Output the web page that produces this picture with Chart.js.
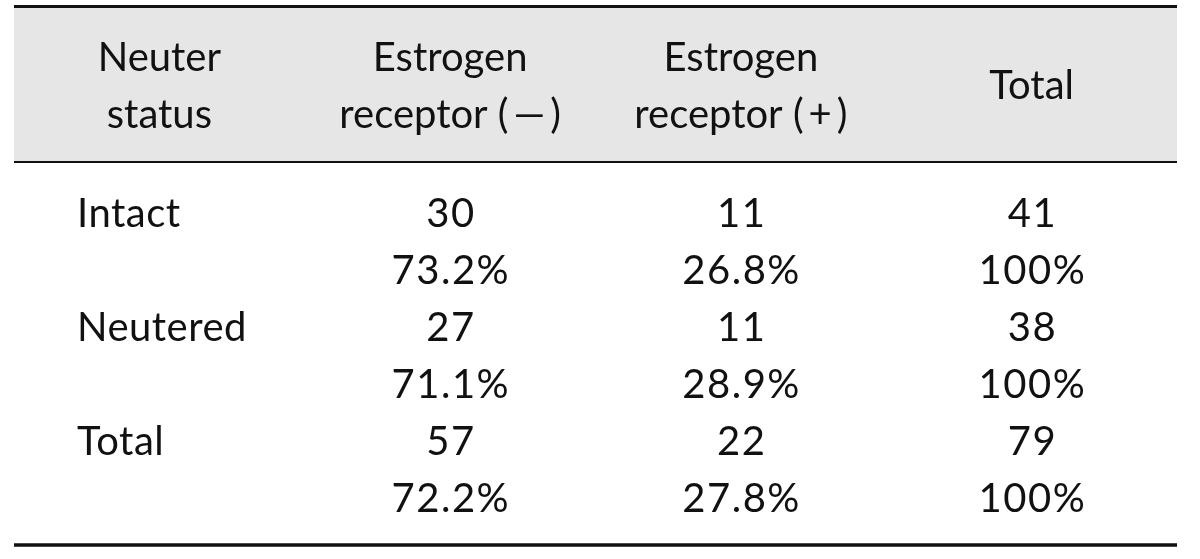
<!DOCTYPE html>
<html lang="en">
<head>
  <meta charset="UTF-8">
  <title>Neuter status vs estrogen receptor</title>
  <script src="https://cdn.jsdelivr.net/npm/chart.js"></script>
  <style>
    html, body { margin: 0; padding: 0; background: #fff; }
    canvas { display: block; }
  </style>
</head>
<body>
  <canvas id="tableChart" width="1200" height="559"></canvas>

  <script>
    // table content
    const headers = [['Neuter', 'status'], ['Estrogen', 'receptor (\u2009\u2014\u2009)'], ['Estrogen', 'receptor (\u2009+\u2009)'], ['Total']];
    const rowLabels = ['Intact', 'Neutered', 'Total'];
    const erNegative = [30, 27, 57];
    const erPositive = [11, 11, 22];
    const rowTotals = [41, 38, 79];
    const erNegativePct = [73.2, 71.1, 72.2];
    const erPositivePct = [26.8, 28.9, 27.8];
    const rowTotalPct = [100, 100, 100];

    // y is measured in text lines; body line 0 is the first count row
    const headerMid = -2.237;
    const rules = { top: -3.868, header: -1.14, bottom: 5.579 };
    const labelInset = 63;
    const font = '40px Lato, "Open Sans", sans-serif';

    function pct(v) {
      return (v % 1 === 0 ? v.toFixed(0) : v.toFixed(1)) + '%';
    }

    const cells = [];
    headers.forEach((lines, c) => {
      lines.forEach((t, k) => {
        cells.push({ x: c, y: headerMid - (lines.length - 1) / 2 + k, text: t, align: 'center', spacing: 0 });
      });
    });
    const valueCols = [[erNegative, erNegativePct], [erPositive, erPositivePct], [rowTotals, rowTotalPct]];
    rowLabels.forEach((label, i) => {
      cells.push({ x: -0.5, y: 2 * i, text: label, align: 'left', spacing: 0.5 });
      valueCols.forEach(([counts, pcts], j) => {
        cells.push({ x: j + 1, y: 2 * i, text: String(counts[i]), align: 'center', spacing: 1.5 });
        cells.push({ x: j + 1, y: 2 * i + 1, text: pct(pcts[i]), align: 'center', spacing: 1.5 });
      });
    });

    const tablePlugin = {
      id: 'tablePlugin',
      beforeDatasetsDraw(chart) {
        const { ctx, chartArea, scales } = chart;
        const yTop = scales.y.getPixelForValue(rules.top);
        const yHead = scales.y.getPixelForValue(rules.header);
        const yBottom = scales.y.getPixelForValue(rules.bottom);
        ctx.save();
        ctx.fillStyle = '#e6e6e6';
        ctx.fillRect(chartArea.left, yTop, chartArea.right - chartArea.left, yHead - yTop);
        ctx.strokeStyle = '#111';
        [[yTop, 3], [yHead, 2], [yBottom, 3.5]].forEach(([y, w]) => {
          ctx.lineWidth = w;
          ctx.beginPath();
          ctx.moveTo(chartArea.left, y);
          ctx.lineTo(chartArea.right, y);
          ctx.stroke();
        });
        ctx.restore();
      },
      afterDatasetsDraw(chart) {
        const { ctx, chartArea } = chart;
        const meta = chart.getDatasetMeta(0);
        const data = chart.data.datasets[0].data;
        ctx.save();
        ctx.font = font;
        ctx.fillStyle = '#111';
        ctx.textBaseline = 'alphabetic';
        meta.data.forEach((el, i) => {
          const cell = data[i];
          ctx.letterSpacing = cell.spacing + 'px';
          ctx.textAlign = cell.align;
          let x = cell.align === 'left' ? chartArea.left + labelInset : el.x + cell.spacing / 2;
          ctx.fillText(cell.text, x, el.y);
        });
        ctx.restore();
      }
    };

    new Chart(document.getElementById('tableChart'), {
      type: 'scatter',
      data: { datasets: [{ data: cells, pointRadius: 0, pointHoverRadius: 0 }] },
      options: {
        responsive: false,
        animation: false,
        layout: { padding: { left: 14, right: 23, top: 0, bottom: 0 } },
        plugins: { legend: { display: false }, tooltip: { enabled: false } },
        scales: {
          x: { type: 'linear', min: -0.5, max: 3.5, display: false },
          y: { type: 'linear', min: -3.982, max: 5.825, reverse: true, display: false }
        }
      },
      plugins: [tablePlugin]
    });
  </script>
</body>
</html>
